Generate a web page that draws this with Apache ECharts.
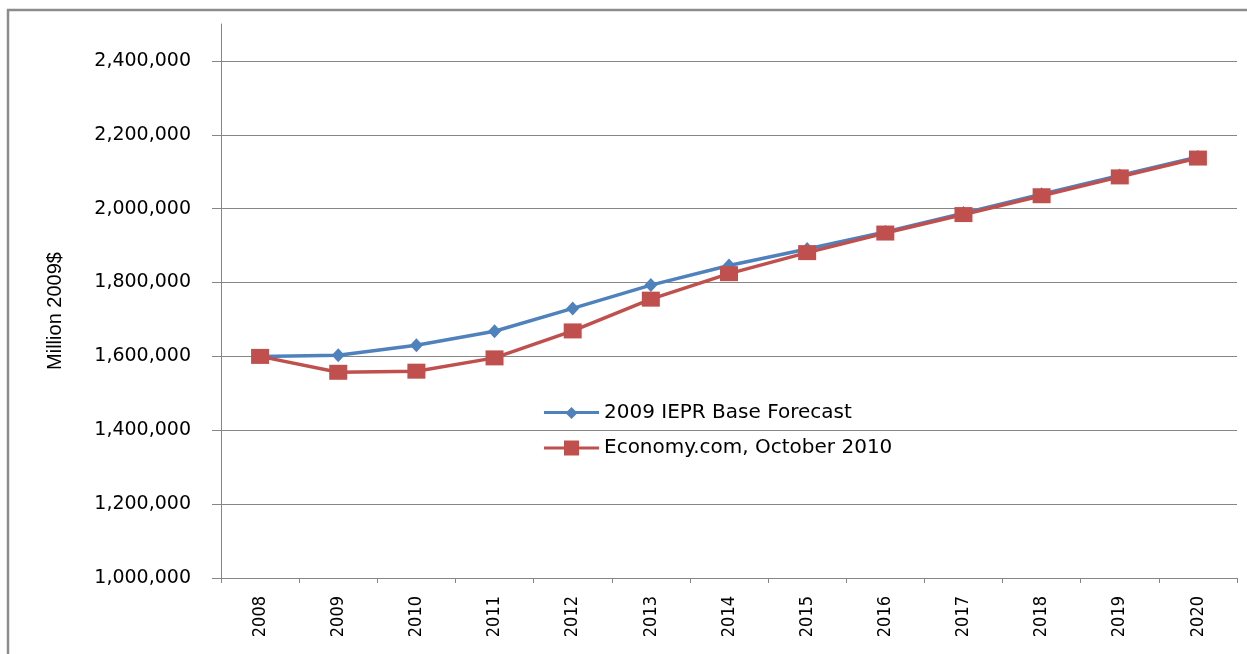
<!DOCTYPE html>
<html>
<head>
<meta charset="utf-8">
<script src="https://cdn.jsdelivr.net/npm/echarts@6/dist/echarts.min.js"></script>
<style>
  html, body { margin: 0; padding: 0; background: #fff; }
  #chart { width: 1247px; height: 654px; }
</style>
</head>
<body>
<div id="chart"></div>
<script>
// years on the x axis
var years = ['2008','2009','2010','2011','2012','2013','2014','2015','2016','2017','2018','2019','2020'];
// 2009 IEPR Base Forecast (million 2009$)
var iepr2009 = [1600000,1603000,1630000,1668000,1730000,1793000,1846000,1891000,1937000,1988000,2039000,2090000,2140000];
// Economy.com, October 2010
var economy2010 = [1600000,1557000,1560000,1596000,1669000,1755000,1824000,1881000,1934000,1984000,2035000,2086000,2137000];
// labelled ticks on the value axis
var yTicks = [1000000,1200000,1400000,1600000,1800000,2000000,2200000,2400000];

var seriesNames = ['2009 IEPR Base Forecast', 'Economy.com, October 2010'];
var gray = '#868686';

var chart = echarts.init(document.getElementById('chart'));

var option = {
  backgroundColor: '#fff',
  animation: false,
  graphic: [{
    type: 'rect',
    shape: { x: 8, y: 10, width: 1260, height: 670 },
    style: { fill: 'none', stroke: '#8c8c8c', lineWidth: 2.5 },
    silent: true
  }],
  grid: { left: 221, right: 10, top: 24, bottom: 76 },
  legend: {
    orient: 'vertical',
    left: 539,
    top: 398,
    itemWidth: 55,
    itemHeight: 16,
    itemGap: 15,
    textStyle: { fontFamily: 'DejaVu Sans', fontSize: 20, color: '#000' },
    data: [
      { name: seriesNames[0], icon: 'path://M0,4h55v3H0z M27.5,0L33.5,6L27.5,12L21.5,6z' },
      { name: seriesNames[1], icon: 'path://M0,6h55v3H0z M20,0h15v15H20z' }
    ]
  },
  xAxis: {
    type: 'category',
    data: years,
    boundaryGap: true,
    axisLine: { lineStyle: { color: gray, width: 1 } },
    axisTick: { show: true, length: 5, lineStyle: { color: gray } },
    axisLabel: {
      rotate: 90,
      margin: 18,
      color: '#000',
      fontFamily: 'DejaVu Sans Condensed, Liberation Sans',
      fontSize: 18
    },
    splitLine: { show: false }
  },
  yAxis: {
    type: 'value',
    min: 1000000,
    max: 2500000,
    interval: 200000,
    name: 'Million 2009$',
    nameLocation: 'middle',
    nameGap: 156,
    nameTextStyle: {
      fontFamily: 'Liberation Sans',
      fontSize: 20,
      color: '#000',
      padding: [0, 20, 0, 0]
    },
    axisLine: { show: true, lineStyle: { color: gray, width: 1 } },
    axisTick: {
      show: true,
      inside: false,
      length: 9,
      lineStyle: { color: gray },
      customValues: yTicks
    },
    axisLabel: {
      margin: 30,
      color: '#000',
      fontFamily: 'DejaVu Sans',
      fontSize: 19,
      customValues: yTicks,
      formatter: function (v) { return v.toLocaleString('en-US'); }
    },
    splitLine: {
      show: true,
      showMinLine: false,
      lineStyle: { color: gray, width: 1 }
    }
  },
  series: [
    {
      name: seriesNames[0],
      type: 'line',
      data: iepr2009,
      symbol: 'diamond',
      symbolSize: [13, 14],
      color: '#4F81BD',
      lineStyle: { width: 3.5, color: '#4F81BD' },
      itemStyle: { color: '#4F81BD' }
    },
    {
      name: seriesNames[1],
      type: 'line',
      data: economy2010,
      symbol: 'rect',
      symbolSize: [18, 15],
      color: '#C0504D',
      lineStyle: { width: 3.5, color: '#C0504D' },
      itemStyle: { color: '#C0504D' }
    }
  ]
};

chart.setOption(option);
window.addEventListener('resize', function () { chart.resize(); });
</script>
</body>
</html>
